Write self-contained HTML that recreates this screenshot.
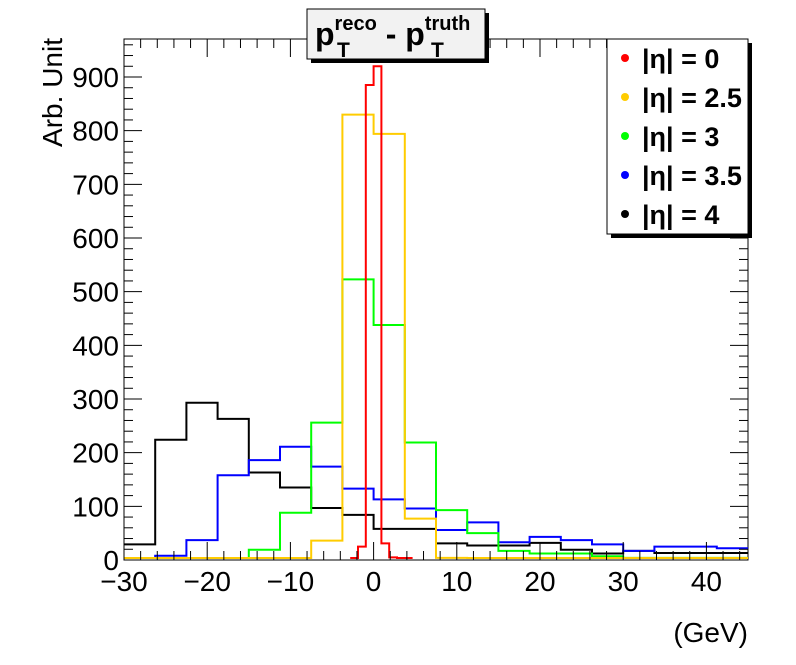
<!DOCTYPE html>
<html><head><meta charset="utf-8"><style>
body{margin:0;background:#fff;}
svg{display:block;font-family:"Liberation Sans",sans-serif;}
</style></head><body>
<svg id="c" width="796" height="665">
<rect width="796" height="665" fill="#fff"/>
</svg>
<script>
const xEdgesMin = -30, binWidth = 3.75;
const eta0Values = [0, 25, 885, 920, 31, 5, 2, 1];
const eta0Start = -2.8125, eta0Width = 0.9375;
const eta25Values = [0,0,0,0,0,0,36,830,794,77,4,0,0,0,0,0,0,0,0,0];
const eta3Values = [0,0,0,0,19,88,256,523,438,219,93,50,17,12,12,7,4,4,4,4];
const eta35Values = [0,8,37,158,186,211,174,133,113,96,56,70,33,43,37,29,17,25,25,22];
const eta4Values = [29,224,293,263,163,135,97,84,58,58,31,27,27,32,19,12,17,13,13,13];
const xTicks = [-30,-20,-10,0,10,20,30,40];
const yTicks = [0,100,200,300,400,500,600,700,800,900];
const legendLabels = ["|η| = 0","|η| = 2.5","|η| = 3","|η| = 3.5","|η| = 4"];
const colors = ["#ff0000","#ffcc00","#00ff00","#0000ff","#000000"];

const L=124,R=748,T=39,B=560;
const xMin=-30,xMax=45,yMax=(B-T)/((560-77)/900);
const X=v=>L+(v-xMin)/(xMax-xMin)*(R-L);
const Y=v=>B-v/yMax*(B-T);
const svg=document.getElementById('c');
const NS='http://www.w3.org/2000/svg';
function mk(tag,attrs,parent){const e=document.createElementNS(NS,tag);for(const k in attrs)e.setAttribute(k,attrs[k]);(parent||svg).appendChild(e);return e;}

const frame=mk('rect',{x:L,y:T,width:R-L,height:B-T,fill:'none',stroke:'#000','stroke-width':1});



const defs=mk('defs',{});
const cp=mk('clipPath',{id:'clip'},defs);
mk('rect',{x:L,y:T,width:R-L,height:B-T+2},cp);

function hist(vals,start,w,color,name){
  let d='';
  vals.forEach((v,i)=>{
    const x0=X(start+i*w),x1=X(start+(i+1)*w),y=Math.min(Y(v),B-2);
    d+=(i===0?`M${x0},${y}`:`L${x0},${y}`)+`L${x1},${y}`;
  });
  const p=mk('path',{d:d,fill:'none',stroke:color,'stroke-width':2,'clip-path':'url(#clip)'});
  
  
}

hist(eta4Values,xEdgesMin,binWidth,colors[4],'series-eta-4');
hist(eta35Values,xEdgesMin,binWidth,colors[3],'series-eta-3-5');
hist(eta3Values,xEdgesMin,binWidth,colors[2],'series-eta-3');
hist(eta25Values,xEdgesMin,binWidth,colors[1],'series-eta-2-5');
hist(eta0Values,eta0Start,eta0Width,colors[0],'series-eta-0');

for(let v=-30;v<=45;v+=2){
  const major=v%10===0;const len=major?18:9;
  mk('line',{x1:X(v),x2:X(v),y1:B,y2:B-len,stroke:'#000'});
  mk('line',{x1:X(v),x2:X(v),y1:T,y2:T+len,stroke:'#000'});
}
xTicks.forEach(v=>{
  const t=mk('text',{x:X(v),y:B+31,'font-size':28,'text-anchor':'middle'});
  t.textContent=v<0?'−'+Math.abs(v):v;
  
  
});
for(let v=0;v<=yMax;v+=20){
  const major=v%100===0;const len=major?18:9;
  mk('line',{x1:L,x2:L+len,y1:Y(v),y2:Y(v),stroke:'#000'});
  mk('line',{x1:R,x2:R-len,y1:Y(v),y2:Y(v),stroke:'#000'});
}
yTicks.forEach(v=>{
  const t=mk('text',{x:L-5,y:Y(v)+10,'font-size':28,'text-anchor':'end'});
  t.textContent=v;
  
  
});
const yt=mk('text',{x:0,y:0,'font-size':28,'text-anchor':'end',transform:'translate(62,38) rotate(-90)'});
yt.textContent='Arb. Unit';


const xt=mk('text',{x:748,y:642,'font-size':28,'text-anchor':'end'});
xt.textContent='(GeV)';



mk('rect',{x:311,y:13,width:178,height:50,fill:'#000'});
const tb=mk('rect',{x:307,y:9,width:178,height:50,fill:'#f2f2f2',stroke:'#000'});


const tt=mk('text',{x:315,y:45,'font-size':32,'font-weight':'bold'});
tt.innerHTML='p<tspan font-size="20" dy="-15">reco</tspan><tspan font-size="32" dy="15"> - p</tspan><tspan font-size="20" dy="-15">truth</tspan>';


[[337,57],[431,57]].forEach(([x,y])=>{const s=mk('text',{x:x,y:y,'font-size':21,'font-weight':'bold'});s.textContent='T';});

mk('rect',{x:611,y:43,width:141,height:195,fill:'#000'});
const lb=mk('rect',{x:607,y:39,width:141,height:195,fill:'#fff',stroke:'#000'});


legendLabels.forEach((lab,i)=>{
  const y=58+i*39;
  const g=mk('g',{});
  
  
  mk('circle',{cx:625,cy:y,r:4,fill:colors[i]},g);
  const t=mk('text',{x:642,y:y+10,'font-size':27,'font-weight':'bold'},g);
  t.textContent=lab;
});
</script>
</body></html>
